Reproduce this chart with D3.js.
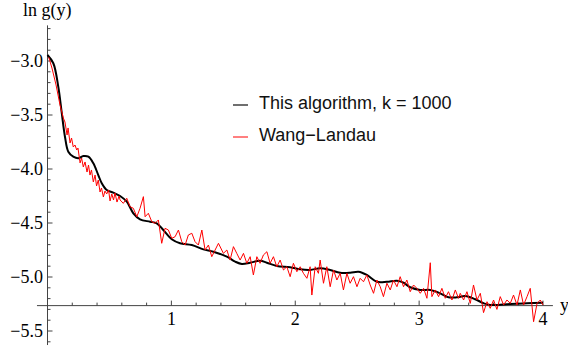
<!DOCTYPE html>
<html>
<head>
<meta charset="utf-8">
<script src="https://cdn.jsdelivr.net/npm/d3@7"></script>
<style>
  body { margin: 0; background: #fff; }
  svg { display: block; }
</style>
</head>
<body>
<div id="chart"></div>
<script>
// "This algorithm, k = 1000" (smooth black curve)
const algX = [0.00, 0.047, 0.087, 0.115, 0.141, 0.168, 0.208, 0.249, 0.289, 0.330, 0.370, 0.410, 0.438, 0.478, 0.531, 0.586, 0.640, 0.693, 0.747, 0.828, 0.882, 0.935, 1.003, 1.070, 1.165, 1.258, 1.339, 1.448, 1.515, 1.569, 1.636, 1.716, 1.771, 1.851, 1.959, 2.040, 2.120, 2.201, 2.282, 2.362, 2.443, 2.511, 2.578, 2.659, 2.740, 2.821, 2.874, 2.928, 3.009, 3.090, 3.170, 3.237, 3.305, 3.372, 3.453, 3.520, 3.574, 3.736, 3.871, 4.0];
const algY = [-2.944, -3.021, -3.238, -3.481, -3.701, -3.840, -3.886, -3.901, -3.880, -3.886, -3.947, -4.056, -4.132, -4.194, -4.219, -4.250, -4.303, -4.410, -4.466, -4.488, -4.503, -4.565, -4.651, -4.688, -4.704, -4.744, -4.766, -4.812, -4.858, -4.880, -4.868, -4.849, -4.868, -4.898, -4.910, -4.929, -4.935, -4.919, -4.935, -4.960, -4.960, -4.951, -4.981, -5.044, -5.044, -5.034, -5.053, -5.095, -5.120, -5.120, -5.151, -5.188, -5.188, -5.176, -5.206, -5.243, -5.259, -5.250, -5.244, -5.238];

// Wang-Landau (noisy red curve)
const wlX = [0.010, 0.036, 0.069, 0.101, 0.128, 0.141, 0.158, 0.166, 0.182, 0.194, 0.208, 0.222, 0.236, 0.246, 0.263, 0.275, 0.289, 0.303, 0.319, 0.331, 0.343, 0.355, 0.370, 0.384, 0.396, 0.410, 0.424, 0.436, 0.451, 0.464, 0.478, 0.493, 0.505, 0.519, 0.533, 0.545, 0.561, 0.578, 0.586, 0.612, 0.640, 0.666, 0.693, 0.721, 0.747, 0.774, 0.788, 0.814, 0.842, 0.868, 0.895, 0.922, 0.949, 0.976, 1.003, 1.030, 1.057, 1.084, 1.111, 1.137, 1.165, 1.191, 1.218, 1.246, 1.272, 1.299, 1.326, 1.353, 1.380, 1.420, 1.448, 1.474, 1.501, 1.528, 1.555, 1.582, 1.609, 1.636, 1.662, 1.690, 1.716, 1.743, 1.771, 1.797, 1.824, 1.851, 1.878, 1.905, 1.932, 1.959, 1.985, 2.013, 2.040, 2.066, 2.094, 2.120, 2.134, 2.161, 2.187, 2.201, 2.228, 2.255, 2.282, 2.309, 2.336, 2.363, 2.389, 2.417, 2.443, 2.470, 2.498, 2.524, 2.551, 2.578, 2.605, 2.632, 2.659, 2.686, 2.712, 2.740, 2.767, 2.793, 2.821, 2.847, 2.874, 2.901, 2.928, 2.955, 2.982, 3.009, 3.036, 3.063, 3.090, 3.103, 3.130, 3.157, 3.184, 3.211, 3.237, 3.265, 3.292, 3.318, 3.332, 3.359, 3.386, 3.413, 3.439, 3.467, 3.494, 3.520, 3.548, 3.574, 3.601, 3.628, 3.655, 3.682, 3.709, 3.736, 3.762, 3.790, 3.817, 3.843, 3.871, 3.897, 3.924, 3.952, 3.978, 4.000];
const wlY = [-2.965, -3.065, -3.222, -3.407, -3.528, -3.565, -3.685, -3.620, -3.759, -3.713, -3.796, -3.778, -3.824, -3.806, -3.944, -3.898, -3.981, -3.935, -4.028, -3.963, -4.056, -4.009, -4.120, -4.056, -4.157, -4.102, -4.213, -4.176, -4.259, -4.204, -4.231, -4.194, -4.296, -4.231, -4.287, -4.222, -4.306, -4.250, -4.287, -4.318, -4.271, -4.349, -4.364, -4.442, -4.364, -4.256, -4.442, -4.410, -4.488, -4.503, -4.472, -4.688, -4.549, -4.565, -4.642, -4.627, -4.565, -4.673, -4.704, -4.611, -4.595, -4.673, -4.704, -4.565, -4.750, -4.704, -4.812, -4.750, -4.688, -4.781, -4.750, -4.843, -4.719, -4.781, -4.843, -4.781, -4.873, -4.812, -4.981, -4.812, -4.873, -4.796, -4.766, -4.873, -4.812, -4.905, -4.843, -4.935, -4.905, -4.997, -4.873, -4.951, -4.905, -4.966, -5.012, -4.905, -5.167, -4.905, -4.966, -4.843, -5.058, -4.905, -5.090, -4.935, -5.028, -4.966, -5.120, -4.966, -5.058, -4.997, -5.090, -5.012, -5.044, -4.981, -5.074, -5.151, -5.028, -5.090, -5.182, -5.058, -5.120, -5.028, -5.090, -4.997, -5.090, -5.028, -5.136, -5.074, -5.105, -5.151, -5.105, -5.197, -4.868, -5.182, -5.120, -5.182, -5.105, -5.197, -5.136, -5.213, -5.120, -5.197, -5.151, -5.213, -5.136, -5.244, -5.074, -5.213, -5.151, -5.330, -5.229, -5.290, -5.213, -5.300, -5.182, -5.259, -5.213, -5.244, -5.167, -5.259, -5.120, -5.259, -5.182, -5.105, -5.414, -5.244, -5.213, -5.259];

const xTicks = [1, 2, 3, 4];
const yTicks = [-3.0, -3.5, -4.0, -4.5, -5.0, -5.5];
const legendLabels = ["This algorithm, k = 1000", "Wang\u2212Landau"];
const legendColors = ["#000", "#ff0000"];

const width = 568, height = 349;
const axisColor = "#444";
const xOrigin = -5.265; // where the horizontal axis crosses

const x = d3.scaleLinear().domain([0, 4]).range([47.5, 543]);
const y = d3.scaleLinear().domain([-3, -5.5]).range([61, 331]);

const svg = d3.select("#chart").append("svg")
  .attr("width", width)
  .attr("height", height)
  .style("background", "#fff");

// axes
const axes = svg.append("g").attr("stroke", axisColor).attr("stroke-width", 1);
axes.append("line")
  .attr("x1", x(0)).attr("x2", x(0))
  .attr("y1", y(-2.67)).attr("y2", y(-5.63));
axes.append("line")
  .attr("x1", x(-0.085)).attr("x2", x(4.08))
  .attr("y1", y(xOrigin)).attr("y2", y(xOrigin));

// y ticks: major every 0.5, minor every 0.1
const yMinor = d3.range(-27, -57, -1).map(d => d / 10).filter(v => v >= -5.6);
axes.selectAll(".ymin").data(yMinor).join("line")
  .attr("x1", x(0)).attr("x2", d => x(0) + (Math.abs(d * 2 - Math.round(d * 2)) < 1e-6 ? 5 : 3))
  .attr("y1", d => y(d)).attr("y2", d => y(d));

// x ticks: major every 1, minor every 0.2
const xMinor = d3.range(1, 21).map(d => d / 5);
axes.selectAll(".xmin").data(xMinor).join("line")
  .attr("x1", d => x(d)).attr("x2", d => x(d))
  .attr("y1", y(xOrigin))
  .attr("y2", d => y(xOrigin) - (Math.abs(d - Math.round(d)) < 1e-6 ? 5 : 3));

const serif = "'Liberation Serif', 'Times New Roman', serif";

svg.selectAll(".ylab").data(yTicks).join("text")
  .attr("x", 43).attr("y", d => y(d))
  .attr("dy", "0.35em")
  .attr("text-anchor", "end")
  .attr("font-family", serif).attr("font-size", 18)
  .text(d => d3.format(".1f")(d).replace("-", "\u2212"));

svg.selectAll(".xlab").data(xTicks).join("text")
  .attr("x", d => x(d)).attr("y", 325)
  .attr("text-anchor", "middle")
  .attr("font-family", serif).attr("font-size", 18)
  .text(d => d);

svg.append("text").attr("x", 23).attr("y", 15.5)
  .attr("font-family", serif).attr("font-size", 18)
  .text("ln g(y)");
svg.append("text").attr("x", 560).attr("y", 311)
  .attr("font-family", serif).attr("font-size", 18)
  .text("y");

// curves
const alg = algX.map((v, i) => [v, algY[i]]);
const wl = wlX.map((v, i) => [v, wlY[i]]);

svg.append("path").datum(alg)
  .attr("fill", "none").attr("stroke", "#000").attr("stroke-width", 2)
  .attr("d", d3.line().x(d => x(d[0])).y(d => y(d[1])).curve(d3.curveCatmullRom));

svg.append("path").datum(wl)
  .attr("fill", "none").attr("stroke", "#ff0000").attr("stroke-width", 1)
  .attr("stroke-linejoin", "round")
  .attr("d", d3.line().x(d => x(d[0])).y(d => y(d[1])));

// legend
const legend = svg.append("g").attr("transform", "translate(233,0)");
legendLabels.forEach((label, i) => {
  const ly = 105 + i * 32;
  legend.append("line")
    .attr("x1", 0).attr("x2", 15).attr("y1", ly).attr("y2", ly)
    .attr("stroke", legendColors[i]).attr("stroke-width", i === 0 ? 1.5 : 1)
    .attr("opacity", i === 0 ? 0.75 : 1);
  legend.append("text")
    .attr("x", 26).attr("y", ly + 3.5)
    .attr("font-family", "'Liberation Sans', Arial, sans-serif")
    .attr("font-size", 18)
    .attr("fill", "#111")
    .text(label);
});
</script>
</body>
</html>
